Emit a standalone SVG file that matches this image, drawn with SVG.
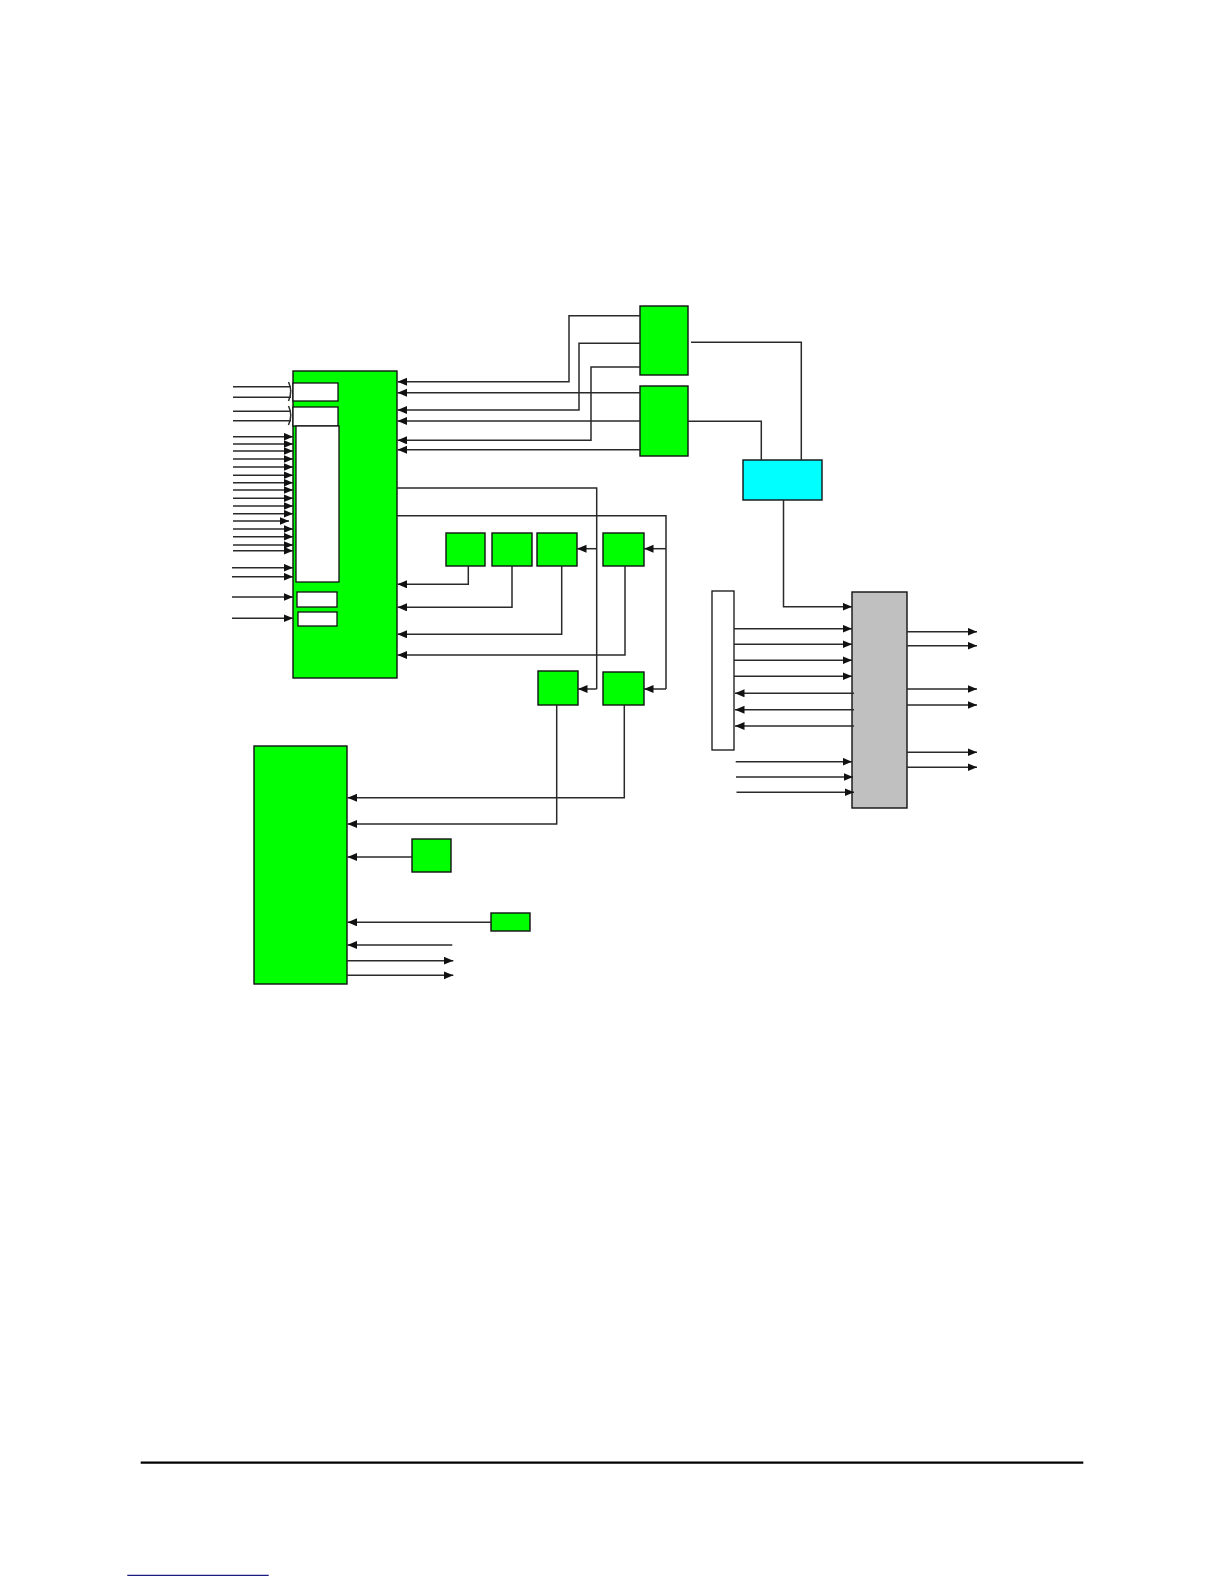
<svg xmlns="http://www.w3.org/2000/svg" width="1224" height="1584" viewBox="0 0 1224 1584">
<style>
.g{fill:#00ff00;stroke:#111;stroke-width:1.4}
.w{fill:#fff;stroke:#111;stroke-width:1.3}
.c{fill:#00ffff;stroke:#111;stroke-width:1.4}
.gr{fill:#c0c0c0;stroke:#111;stroke-width:1.4}
.l{fill:none;stroke:#2a2a2a;stroke-width:1.5}
.a{fill:none;stroke:#2a2a2a;stroke-width:1.5;marker-end:url(#ah)}
</style>
<defs>
<marker id="ah" markerUnits="userSpaceOnUse" markerWidth="11" markerHeight="9" refX="9.5" refY="4" orient="auto">
<path d="M0,0 L9.5,4 L0,8 z" fill="#111"/>
</marker>
</defs>
<rect width="1224" height="1584" fill="#fff"/>

<g id="main-upper">
<rect class="g" x="293" y="371" width="104" height="307"/>
<rect class="w" x="293" y="383" width="45" height="18"/>
<rect class="w" x="293" y="407" width="45" height="19"/>
<rect class="w" x="296" y="426" width="43" height="156"/>
<rect class="w" x="297" y="592" width="40" height="15"/>
<rect class="w" x="298" y="612" width="39" height="14"/>
</g>
<g id="top-box-1"><rect class="g" x="640" y="306" width="48" height="69"/></g>
<g id="top-box-2"><rect class="g" x="640" y="386" width="48" height="70"/></g>
<g id="cyan-box"><rect class="c" x="743" y="460" width="79" height="40"/></g>
<g id="box-a"><rect class="g" x="446" y="533" width="39" height="33"/></g>
<g id="box-b"><rect class="g" x="492" y="533" width="40" height="33"/></g>
<g id="box-c"><rect class="g" x="537" y="533" width="40" height="33"/></g>
<g id="box-d"><rect class="g" x="603" y="533" width="41" height="33"/></g>
<g id="box-e"><rect class="g" x="538" y="671" width="40" height="34"/></g>
<g id="box-f"><rect class="g" x="603" y="672" width="41" height="33"/></g>
<g id="main-lower"><rect class="g" x="254" y="746" width="93" height="238"/></g>
<g id="box-g"><rect class="g" x="412" y="839" width="39" height="33"/></g>
<g id="box-h"><rect class="g" x="491" y="913" width="39" height="18"/></g>
<g id="white-bar"><rect class="w" x="712" y="591" width="22" height="159"/></g>
<g id="gray-box"><rect class="gr" x="852" y="592" width="55" height="216"/></g>

<g id="connectors">
<path class="l" d="M233,386.7 H291 M233,397.3 H291 M233,411.3 H291 M233,420.7 H291"/>
<path class="l" d="M288.5,382 Q293,391 288.5,401 M288.5,406 Q293,415 288.5,425"/>
<path class="a" d="M233,436.7 H293"/>
<path class="a" d="M233,444 H293"/>
<path class="a" d="M233,451 H293"/>
<path class="a" d="M233,459 H293"/>
<path class="a" d="M233,467 H293"/>
<path class="a" d="M233,475.3 H293"/>
<path class="a" d="M233,482.7 H293"/>
<path class="a" d="M233,490 H293"/>
<path class="a" d="M233,498.3 H293"/>
<path class="a" d="M233,506 H293"/>
<path class="a" d="M233,513.7 H293"/>
<path class="a" d="M233,521 H289"/>
<path class="a" d="M233,529 H293"/>
<path class="a" d="M233,536.7 H293"/>
<path class="a" d="M233,545 H293"/>
<path class="a" d="M233,550.7 H293"/>
<path class="a" d="M232,567.7 H293"/>
<path class="a" d="M232,576.7 H293"/>
<path class="a" d="M232,597 H293"/>
<path class="a" d="M232,618.3 H293"/>
<path class="a" d="M640,315.7 H569 V381.7 H397.5"/>
<path class="a" d="M640,392.7 H397.5"/>
<path class="a" d="M640,343.3 H579 V410 H397.5"/>
<path class="a" d="M640,421 H397.5"/>
<path class="a" d="M640,367 H591 V440.3 H397.5"/>
<path class="a" d="M640,449.7 H397.5"/>
<path class="l" d="M691,342.3 H801.3 V460"/>
<path class="l" d="M688,421.3 H761.3 V460"/>
<path class="a" d="M783.5,500 V606.7 H852"/>
<path class="l" d="M397,488 H596.7 V689"/>
<path class="a" d="M596.7,548.7 H577"/>
<path class="a" d="M596.7,689 H578"/>
<path class="l" d="M397,515.7 H666 V689"/>
<path class="a" d="M666,548.7 H644"/>
<path class="a" d="M666,689 H644"/>
<path class="a" d="M468.3,566 V584.3 H397.5"/>
<path class="a" d="M512,566 V607.3 H397.5"/>
<path class="a" d="M561.7,566 V634.3 H397.5"/>
<path class="a" d="M625,566 V655 H397.5"/>
<path class="a" d="M624.3,705 V797.7 H347.5"/>
<path class="a" d="M556.7,705 V824 H347.5"/>
<path class="a" d="M412,857 H347.5"/>
<path class="a" d="M491,922.3 H347.5"/>
<path class="a" d="M452.3,945 H347.5"/>
<path class="a" d="M347,960.7 H453.3"/>
<path class="a" d="M347,975.3 H453.3"/>
<path class="a" d="M734,628.7 H852"/>
<path class="a" d="M734,644.3 H852"/>
<path class="a" d="M734,660.3 H852"/>
<path class="a" d="M734,676.3 H852"/>
<path class="a" d="M854,693.3 H735"/>
<path class="a" d="M854,709.7 H735"/>
<path class="a" d="M854,726 H735"/>
<path class="a" d="M735.7,761.7 H852"/>
<path class="a" d="M736,777 H853"/>
<path class="a" d="M736.5,792.3 H854"/>
<path class="a" d="M907,631.7 H977"/>
<path class="a" d="M907,645.7 H977"/>
<path class="a" d="M907,689 H977"/>
<path class="a" d="M907,705 H977"/>
<path class="a" d="M907,752.3 H977"/>
<path class="a" d="M907,767.3 H977"/>
</g>

<line x1="140.7" y1="1462.7" x2="1083.3" y2="1462.7" stroke="#000" stroke-width="2.2"/>
<line x1="127.3" y1="1575.3" x2="268.7" y2="1575.3" stroke="#1a1a80" stroke-width="1.3"/>
</svg>
